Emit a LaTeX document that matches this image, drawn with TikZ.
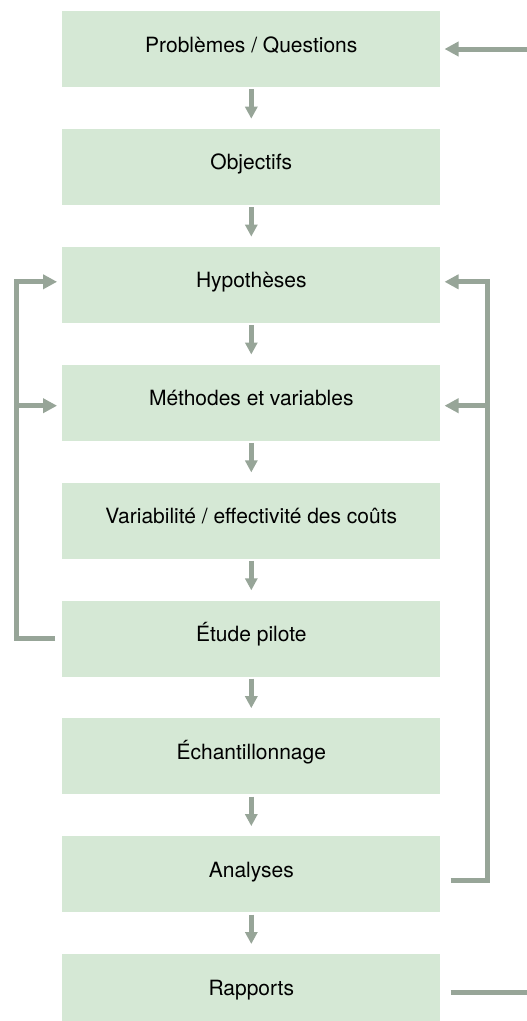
\documentclass[tikz,border=0pt]{standalone}
\usepackage{fontspec}
\setmainfont{TeX Gyre Heros}
\usepackage{tikz}
\usetikzlibrary{arrows.meta,positioning}
\definecolor{boxgreen}{RGB}{213,232,213}
\definecolor{linegray}{RGB}{151,165,152}

\begin{document}
\begin{tikzpicture}[x=1pt,y=1pt,node distance=41.5pt,
step node/.style={rectangle,fill=boxgreen,minimum width=378pt,minimum height=76pt,
inner sep=0pt,text height=15pt,text depth=9pt,font=\fontsize{21}{25}\selectfont},
flow/.style={color=linegray,line width=5pt,-{Triangle[length=14pt,width=14pt]}},
down/.style={color=linegray,line width=4.5pt,-{Triangle[length=12pt,width=12pt]}},
back/.style={color=linegray,line width=5pt}]
\useasboundingbox (0,0) rectangle (527,-1021);
\node[step node] (prob) at (251.3,-49) {Problèmes / Questions};
\node[step node] (obj) [below=of prob] {Objectifs};
\node[step node] (hyp) [below=of obj] {Hypothèses};
\node[step node] (meth) [below=of hyp] {Méthodes et variables};
\node[step node] (var) [below=of meth] {Variabilité / effectivité des coûts};
\node[step node] (etude) [below=of var] {Étude pilote};
\node[step node] (ech) [below=of etude] {Échantillonnage};
\node[step node] (ana) [below=of ech] {Analyses};
\node[step node] (rap) [below=of ana] {Rapports};
\coordinate (lft) at (16,0);
\coordinate (rgt) at (487,0);
\coordinate (in) at (527,-49);
\coordinate (out) at (527,0);
\path[down,shorten <=2pt,shorten >=10pt]
(prob) edge (obj)
(obj) edge (hyp)
(hyp) edge (meth)
(meth) edge (var)
(var) edge (etude)
(etude) edge (ech)
(ech) edge (ana)
(ana) edge (rap);
% retours a gauche
\draw[flow] ([xshift=-7pt]etude.west) -| ([yshift=3pt]lft |- hyp.west) -- ([xshift=-5pt,yshift=3pt]hyp.west);
\draw[flow] ([yshift=-3pt]lft |- meth.west) -- ([xshift=-5pt,yshift=-3pt]meth.west);
% retours a droite
\draw[flow] ([xshift=10pt,yshift=-6pt]ana.east) -| ([yshift=3pt]rgt |- hyp.east) -- ([xshift=4pt,yshift=3pt]hyp.east);
\draw[flow] ([yshift=-3pt]rgt |- meth.east) -- ([xshift=4pt,yshift=-3pt]meth.east);
\draw[flow] (in) -- ([xshift=4pt]prob.east);
\draw[back] ([xshift=10pt]rap.east) -- (out |- rap.east);
\end{tikzpicture}
\end{document}
